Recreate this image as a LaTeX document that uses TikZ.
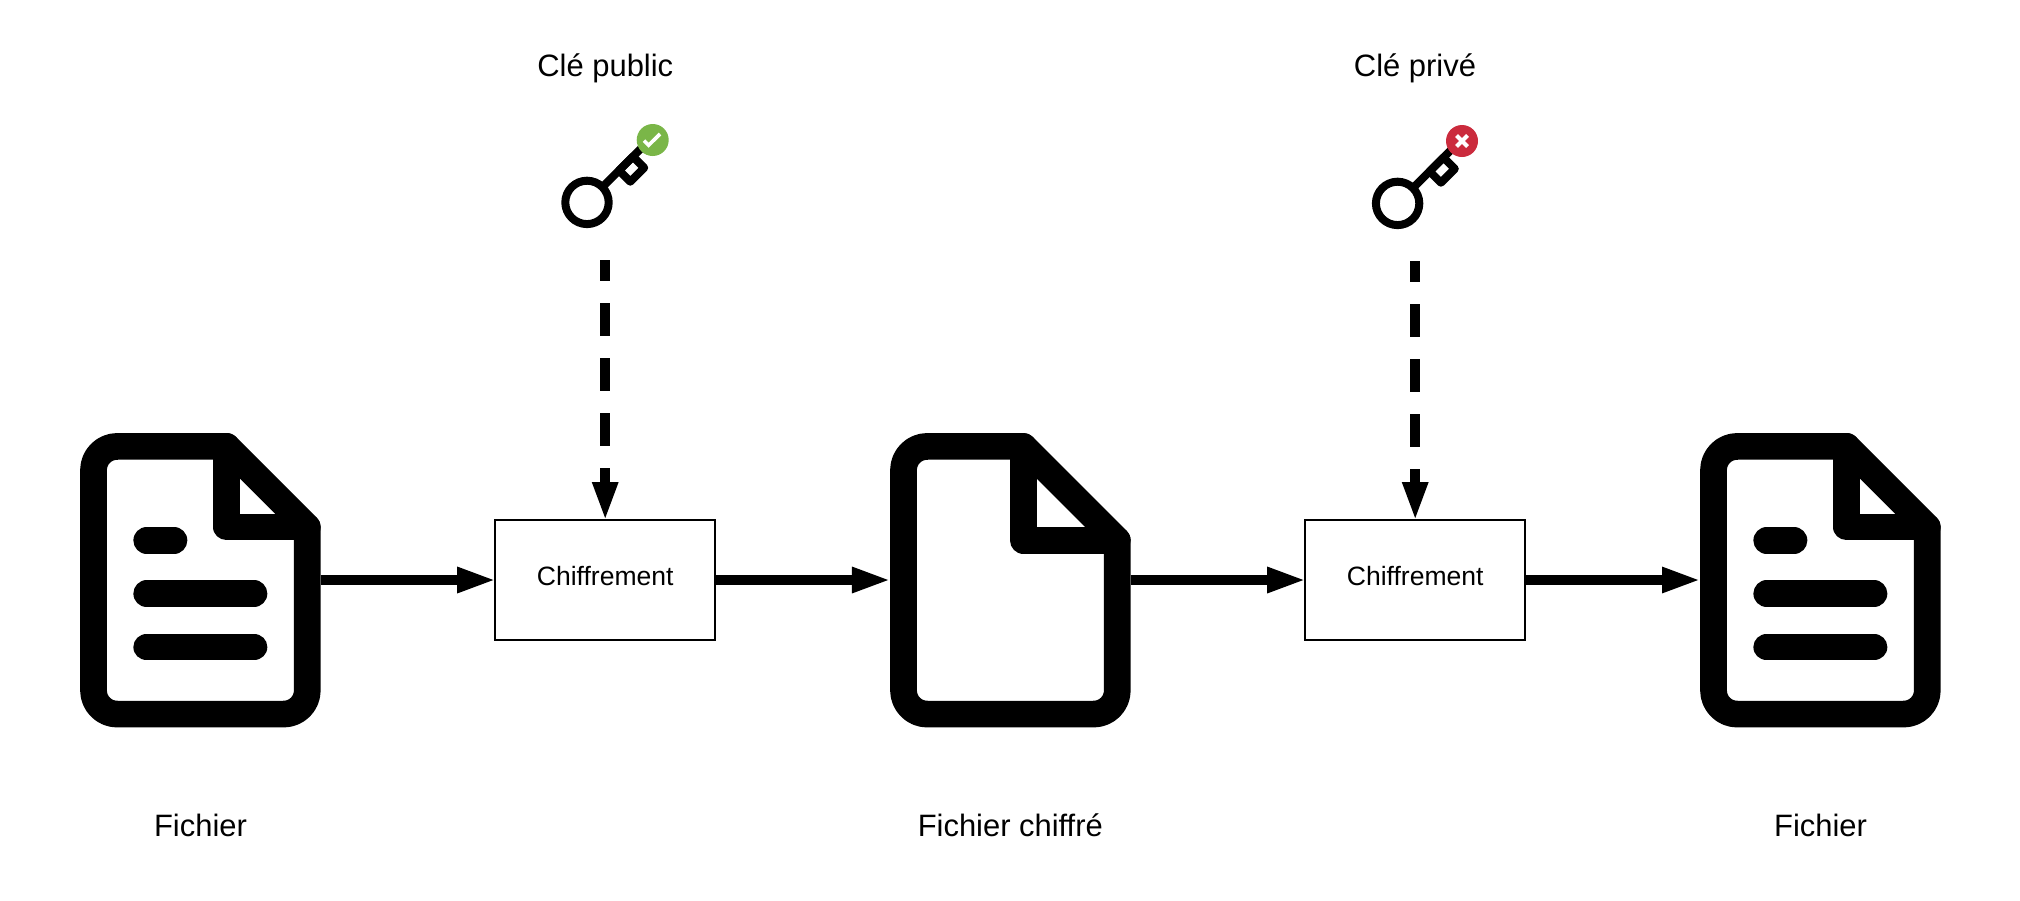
\documentclass[tikz,border=0pt]{standalone}
\usepackage{fontspec}
\setmainfont{Liberation Sans}
\usetikzlibrary{arrows.meta}
\definecolor{okgreen}{HTML}{7AB648}
\definecolor{nored}{HTML}{CB2B3D}
\tikzset{
  px/.style={x=0.75pt,y=-0.75pt},
  docline/.style={line width=20pt,line join=round,line cap=round},
  docfold/.style={line width=20pt,line join=round,line cap=round},
  docbar/.style={line width=20pt,line cap=round},
  docbox/.style={minimum width=180.4pt,minimum height=220.7pt,inner sep=0pt,outer sep=0pt},
  procbox/.style={draw=black,line width=1.5pt,minimum width=165pt,minimum height=90pt,inner sep=0pt,outer sep=0pt,font=\fontsize{19.9pt}{24pt}\selectfont},
  biglabel/.style={anchor=base,inner sep=0pt,font=\fontsize{23.2pt}{28pt}\selectfont},
  flow/.style={line width=7.5pt,shorten >=-1pt,-{Triangle[length=29.5pt,width=17.5pt]}},
  keyflow/.style={flow,dash pattern=on 24.75pt off 16.5pt,dash phase=9pt},
  keyline/.style={line width=6pt,line join=round},
  mark ok/.style={draw=white,line width=2.7pt},
  mark no/.style={draw=white,line width=3pt}
}
% #1 = horizontal offset, #2 = fold corner x, #3 = fold corner y
\newcommand{\docicon}[3]{%
  \begin{scope}[shift={(#1,0.4)}]
    \draw[docline] (#2,446) -- (117.2,446) arc[start angle=90,end angle=180,x radius=23.7,y radius=-23.7]
      -- (93.5,690) arc[start angle=180,end angle=270,x radius=23.7,y radius=-23.7]
      -- (283.6,713.7) arc[start angle=270,end angle=360,x radius=23.7,y radius=-23.7]
      -- (307.3,#3) -- cycle;
    \draw[docfold] (#2,446) -- (#2,#3) -- (307.3,#3);
  \end{scope}}
\newcommand{\docbars}[1]{%
  \begin{scope}[shift={(#1,0.4)}]
    \draw[docbar] (146.7,540) -- (174,540);
    \draw[docbar] (146.7,593.3) -- (254,593.3);
    \draw[docbar] (146.7,646.7) -- (254,646.7);
  \end{scope}}
% #1,#2 = centre of the ring
\newcommand{\keyicon}[2]{%
  \begin{scope}[shift={(#1,#2)}]
    \draw[keyline] (0,0) circle[radius=21.7];
    \draw[keyline] (15.3,-15.3) -- (60,-60);
    \draw[keyline] (32,-32) -- (45.9,-45.9) -- (57.2,-34.6) -- (43.3,-20.7) -- cycle;
  \end{scope}}
\begin{document}
\begin{tikzpicture}[px]
  \useasboundingbox (0,0) rectangle (2020,900);

  % documents
  \node[docbox] (doc1) at (200.25,580) {};
  \node[docbox] (doc2) at (1010.25,580) {};
  \node[docbox] (doc3) at (1820.25,580) {};
  \docicon{0}{226.7}{526.7}
  \docbars{0}
  \docicon{810}{213.3}{540}
  \docicon{1620}{226.7}{526.7}
  \docbars{1620}

  % process boxes
  \node[procbox] (box1) at (605.2,580) {\raisebox{-3.75pt}[0pt][0pt]{Chiffrement}};
  \node[procbox] (box2) at (1415.2,580) {\raisebox{-3.75pt}[0pt][0pt]{Chiffrement}};

  % keys
  \keyicon{587}{202.4}
  \keyicon{1397.6}{203.4}
  \coordinate (keypub) at (605.2,260);
  \coordinate (keypriv) at (1415.2,261);

  \node[circle,fill=okgreen,minimum size=24pt,inner sep=0pt] (okbadge) at (652.7,140) {};
  \draw[mark ok] (644,140.7) -- (648.6,145.3) -- (660,134);
  \node[circle,fill=nored,minimum size=24pt,inner sep=0pt] (nobadge) at (1462,141) {};
  \draw[mark no] (1456.5,135.5) -- (1467.5,146.5) (1456.5,146.5) -- (1467.5,135.5);

  % connectors
  \draw[flow] (doc1.east) -- (box1.west);
  \draw[flow] (box1.east) -- (doc2.west);
  \draw[flow] (doc2.east) -- (box2.west);
  \draw[flow] (box2.east) -- (doc3.west);
  \draw[keyflow] (keypub) -- (box1.north);
  \draw[keyflow] (keypriv) -- (box2.north);

  % labels
  \node[biglabel] (lpub) at (605.3,76) {Clé public};
  \node[biglabel] (lpriv) at (1415,76.5) {Clé privé};
  \node[biglabel] (lf1) at (200.5,836) {Fichier};
  \node[biglabel] (lf2) at (1010.3,836) {Fichier chiffré};
  \node[biglabel] (lf3) at (1820.5,836) {Fichier};
\end{tikzpicture}
\end{document}
